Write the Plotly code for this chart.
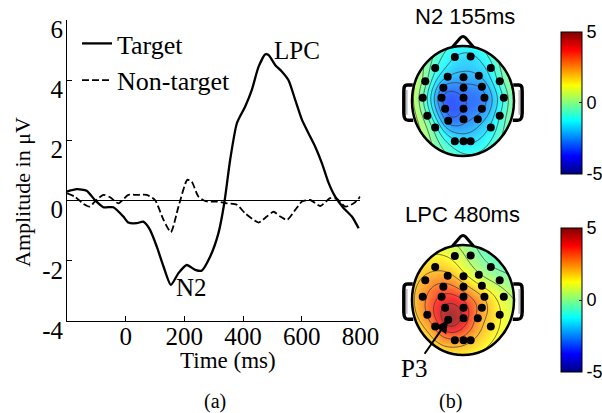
import numpy as np
import plotly.graph_objects as go

# ---------------- data ----------------
target_t = [-200, -167, -133, -105, -76, -42, -8, 9, 38, 60, 83, 106, 129, 154, 180, 208, 237, 259, 288,
            316, 336, 356, 379, 407, 430, 453, 476, 487, 510, 532, 555, 578, 601, 623, 646, 669, 692,
            714, 743, 771, 794]
target_v = [0.30, 0.38, 0.33, 0.02, -0.22, -0.22, -0.53, -0.73, -0.75, -0.70, -0.97, -1.53, -2.19, -2.80,
            -2.41, -2.14, -2.30, -2.33, -1.86, -1.09, -0.09, 1.35, 2.57, 3.12, 3.68, 4.45, 4.86, 4.84,
            4.50, 4.29, 4.00, 3.34, 2.68, 2.24, 1.79, 1.24, 0.58, 0.13, -0.25, -0.53, -0.92]
nontarget_t = [-200, -173, -144, -122, -105, -76, -53, -25, 9, 38, 72, 100, 129, 154, 180, 210, 225, 248,
               276, 310, 345, 379, 407, 453, 481, 504, 527, 550, 578, 601, 629, 663, 697, 720, 749, 777, 800]
nontarget_v = [0.24, 0.13, -0.11, -0.20, -0.03, 0.19, 0.11, -0.09, 0.19, 0.19, 0.19, 0.02, -0.64, -1.05,
               -0.20, 0.69, 0.63, 0.13, -0.03, -0.03, -0.09, -0.14, -0.42, -0.73, -0.53, -0.37, -0.53,
               -0.64, -0.31, -0.03, 0.02, -0.18, 0.08, 0.06, -0.20, -0.09, 0.13]
time_ticks = [0, 200, 400, 600, 800]
amp_ticks = [-4, -2, 0, 2, 4, 6]
amp_tick_text = ['-4', '-2', '0', '2', '4', '6']
cbar_ticks = [-5, 0, 5]
cbar_tick_text = ['-5', '0', '5']

elec_names = ['Fp1', 'Fp2', 'F7', 'F8', 'F3', 'Fz', 'F4', 'FT7', 'FT8', 'FC3', 'FCz', 'FC4', 'T7', 'T8',
              'C3', 'Cz', 'C4', 'CP3', 'CPz', 'CP4', 'TP7', 'TP8', 'P3', 'Pz', 'P4', 'P7', 'P8',
              'O1', 'Oz', 'O2']
elec_x = [-0.16, 0.15, -0.545, 0.545, -0.30, 0.01, 0.31, -0.74, 0.72, -0.385, 0.01, 0.37, -0.79, 0.80,
          -0.42, 0.01, 0.42, -0.35, 0.01, 0.37, -0.70, 0.72, -0.29, 0.01, 0.29, -0.545, 0.545,
          -0.16, 0.01, 0.15]
elec_y = [0.80, 0.81, 0.60, 0.60, 0.44, 0.43, 0.46, 0.36, 0.36, 0.24, 0.24, 0.26, 0.06, 0.06,
          0.06, 0.06, 0.06, -0.14, -0.14, -0.14, -0.27, -0.27, -0.36, -0.33, -0.33, -0.48, -0.48,
          -0.73, -0.73, -0.73]
n2_values = [-1.5, -1.6, -0.9, -1.2, -2.0, -2.2, -2.0, -0.3, -0.8, -2.6, -2.7, -2.4, -0.4, -0.9,
             -2.9, -3.0, -2.6, -3.0, -3.0, -2.6, -0.5, -1.0, -2.7, -2.7, -2.3, -0.8, -1.4,
             -1.4, -1.6, -1.6]
lpc_values = [1.0, 0.2, 1.8, -0.2, 2.2, 1.5, 0.6, 2.2, 0.2, 3.0, 2.3, 1.2, 2.5, 0.8,
              3.6, 3.2, 1.9, 4.4, 3.9, 2.4, 2.8, 1.3, 4.8, 4.0, 2.5, 2.9, 1.6,
              2.6, 2.4, 2.1]
map_titles = ['N2 155ms', 'LPC 480ms']

# ---------------- styling helpers ----------------
SERIF = 'Liberation Serif, Times New Roman, serif'
SANS = 'Liberation Sans, Arial, sans-serif'
W, H = 602, 413


def px(x):
    return x / W


def py(y):
    return 1 - y / H


jet = [[0.0, 'rgb(0,0,128)'], [0.125, 'rgb(0,0,255)'], [0.375, 'rgb(0,255,255)'],
       [0.625, 'rgb(255,255,0)'], [0.875, 'rgb(255,0,0)'], [1.0, 'rgb(128,0,0)']]


def green(d):
    ds = np.where(d > 0, d, 1.0)
    return np.where(d > 0, d ** 2 * (np.log(ds) - 1.0), 0.0)


def biharmonic_grid(xe, ye, ve, g):
    xe = np.asarray(xe, float)
    ye = np.asarray(ye, float)
    ve = np.asarray(ve, float)
    d = np.hypot(xe[:, None] - xe[None, :], ye[:, None] - ye[None, :])
    w = np.linalg.solve(green(d), ve)
    X, Y = np.meshgrid(g, g)
    D = np.hypot(X[..., None] - xe, Y[..., None] - ye)
    return green(D) @ w


grid = np.linspace(-1.0, 1.0, 121)

fig = go.Figure()

# ERP waveforms
fig.add_trace(go.Scatter(x=target_t, y=target_v, mode='lines', name='Target',
                         line=dict(color='black', width=2.3, shape='spline', smoothing=0.6),
                         xaxis='x', yaxis='y'))
fig.add_trace(go.Scatter(x=nontarget_t, y=nontarget_v, mode='lines', name='Non-target',
                         line=dict(color='black', width=1.8, dash='7px,3px', shape='spline', smoothing=0.6),
                         xaxis='x', yaxis='y'))

# topographic maps
map_specs = [
    (n2_values, 'x2', 'y2', 102.9, 142, -3.0, 1.0, 0.5),
    (lpc_values, 'x3', 'y3', 300.0, 144, -1.0, 4.5, 0.75),
]
shapes = []
theta = np.linspace(0, 2 * np.pi, 181)
circ = ' '.join(f'L {np.cos(t):.4f},{np.sin(t):.4f}' for t in theta[1:])
mask_path = f'M -1.4,-1.4 L 1.4,-1.4 L 1.4,1.4 L -1.4,1.4 Z M 1,0 {circ} Z'

for vals, xa, ya, cby, cblen, cs, ce, csz in map_specs:
    Z = biharmonic_grid(elec_x, elec_y, vals, grid)
    fig.add_trace(go.Heatmap(x=grid, y=grid, z=Z, colorscale=jet, zmin=-5, zmax=5, zsmooth='best',
                             opacity=0.8, xaxis=xa, yaxis=ya, hoverinfo='skip', showlegend=False,
                             colorbar=dict(x=px(561), xanchor='left', xpad=0, y=py(cby), yanchor='middle',
                                           ypad=0, len=cblen, lenmode='pixels', thickness=21,
                                           thicknessmode='pixels', outlinewidth=1, outlinecolor='black',
                                           tickvals=cbar_ticks, ticktext=cbar_tick_text, ticks='inside',
                                           ticklen=3, tickcolor='black',
                                           tickfont=dict(family=SANS, size=18, color='black'))))
    fig.add_trace(go.Contour(x=grid, y=grid, z=Z, xaxis=xa, yaxis=ya, showscale=False, showlegend=False,
                             contours=dict(coloring='none', start=cs, end=ce, size=csz),
                             line=dict(color='rgba(50,50,50,0.9)', width=0.8), hoverinfo='skip'))
    fig.add_trace(go.Scatter(x=elec_x, y=elec_y, mode='markers', text=elec_names, showlegend=False,
                             marker=dict(size=8, color='black'), xaxis=xa, yaxis=ya,
                             hovertemplate='%{text}<extra></extra>'))
    # white mask outside the head
    shapes.append(dict(type='path', xref=xa, yref=ya, path=mask_path, fillrule='evenodd',
                       fillcolor='white', line=dict(width=0), layer='above'))
    # head outline
    shapes.append(dict(type='circle', xref=xa, yref=ya, x0=-1, x1=1, y0=-1, y1=1,
                       line=dict(color='black', width=2.5), layer='above'))
    # nose
    shapes.append(dict(type='path', xref=xa, yref=ya,
                       path='M -0.21,0.977 L -0.05,1.15 Q 0,1.2 0.05,1.15 L 0.21,0.977',
                       line=dict(color='black', width=3), layer='above'))
    # ears
    for s in (-1, 1):
        shapes.append(dict(type='path', xref=xa, yref=ya,
                           path=(f'M {s*0.985},0.29 L {s*1.09},0.29 C {s*1.16},0.29 {s*1.16},0.24 {s*1.16},0.17 '
                                 f'L {s*1.16},-0.22 C {s*1.16},-0.31 {s*1.14},-0.35 {s*1.07},-0.35 L {s*0.975},-0.35'),
                           line=dict(color='black', width=3.5), layer='above'))
        shapes.append(dict(type='path', xref=xa, yref=ya,
                           path=f'M {s*1.1},0.2 L {s*1.1},-0.25',
                           line=dict(color='rgb(150,150,150)', width=1), layer='above'))


def paper_text(text, x, y, family, size, angle=0):
    return dict(text=text, x=px(x), y=py(y), xref='paper', yref='paper', showarrow=False,
                xanchor='center', yanchor='middle', textangle=angle,
                font=dict(family=family, size=size, color='black'))


annotations = [
    dict(text='LPC', x=585, y=4.97, xref='x', yref='y', showarrow=False,
         xanchor='center', yanchor='middle', font=dict(family=SERIF, size=25, color='black')),
    dict(text='N2', x=226, y=-2.9, xref='x', yref='y', showarrow=False,
         xanchor='center', yanchor='middle', font=dict(family=SERIF, size=25, color='black')),
    paper_text('Amplitude in μV', 22, 192, SERIF, 22, -90),
    paper_text('Time (ms)', 228, 360, SERIF, 23),
    paper_text('(a)', 215, 401, SERIF, 20),
    paper_text('(b)', 450, 401, SERIF, 20),
    paper_text(map_titles[0], 465, 17, SANS, 22),
    paper_text(map_titles[1], 462, 214, SANS, 22),
    dict(text='P3', x=elec_x[elec_names.index('P3')], y=elec_y[elec_names.index('P3')], xref='x3', yref='y3',
         ax=-34, ay=49, showarrow=True, arrowhead=2, arrowsize=1.3, arrowwidth=2, arrowcolor='black',
         standoff=0, font=dict(family=SERIF, size=25, color='black')),
]

map_axis = dict(visible=False, range=[-1.3, 1.3], fixedrange=True, showgrid=False, zeroline=False)

fig.update_layout(
    width=W, height=H, margin=dict(l=0, r=0, t=0, b=0, autoexpand=False),
    paper_bgcolor='white', plot_bgcolor='white',
    showlegend=True,
    legend=dict(x=px(77), y=py(20), xanchor='left', yanchor='top', bgcolor='rgba(0,0,0,0)',
                font=dict(family=SERIF, size=26, color='black'), tracegroupgap=0, itemwidth=30),
    xaxis=dict(domain=[px(67), px(360.4)], range=[-200, 800], tickvals=time_ticks, ticks='inside',
               ticklen=5, tickcolor='black', showline=True, linecolor='black', linewidth=1,
               showgrid=False, zeroline=False, ticklabelstandoff=-7, ticklabeloverflow='allow',
               tickfont=dict(family=SERIF, size=25, color='black')),
    yaxis=dict(domain=[py(321), py(20)], range=[-4, 6], tickvals=amp_ticks, ticktext=amp_tick_text,
               ticks='inside', ticklen=5, tickcolor='black', showline=True, linecolor='black', linewidth=1,
               showgrid=False, zeroline=True, zerolinecolor='black', zerolinewidth=1,
               ticklabelshift=9, ticklabelstandoff=-2, ticklabeloverflow='allow',
               tickfont=dict(family=SERIF, size=25, color='black')),
    xaxis2=dict(map_axis, domain=[px(463 - 66.3), px(463 + 66.3)], anchor='y2'),
    yaxis2=dict(map_axis, domain=[py(101 + 71.5), py(101 - 71.5)], anchor='x2'),
    xaxis3=dict(map_axis, domain=[px(463 - 66.3), px(463 + 66.3)], anchor='y3'),
    yaxis3=dict(map_axis, domain=[py(300 + 71.5), py(300 - 71.5)], anchor='x3'),
    shapes=shapes,
    annotations=annotations,
)

fig.write_html('out.html', config={'displayModeBar': False},
               post_script="document.body.style.margin='0';document.body.style.padding='0';")
